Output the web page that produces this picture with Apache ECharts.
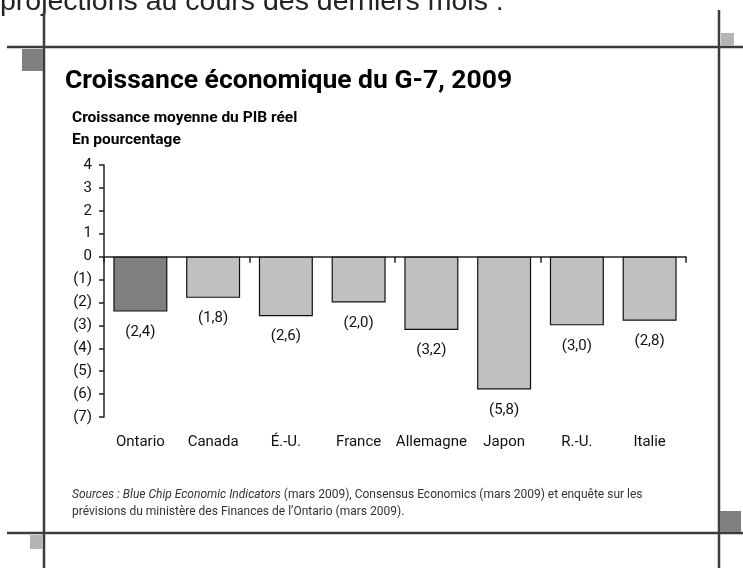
<!DOCTYPE html>
<html>
<head>
<meta charset="utf-8">
<script src="https://cdn.jsdelivr.net/npm/echarts@6/dist/echarts.min.js"></script>
<style>
html,body{margin:0;padding:0;background:#fff;}
#c{width:743px;height:568px;}
</style>
</head>
<body>
<div id="c"></div>
<script>
var categories = ['Ontario', 'Canada', 'É.-U.', 'France', 'Allemagne', 'Japon', 'R.-U.', 'Italie'];
var growth = [-2.4, -1.8, -2.6, -2.0, -3.2, -5.8, -3.0, -2.8];
var highlight = ['Ontario'];
var yMin = -7, yMax = 4, yStep = 1;
var titleText = 'Croissance économique du G-7, 2009';
var subtitle1 = 'Croissance moyenne du PIB réel';
var subtitle2 = 'En pourcentage';
var topText = 'projections au cours des derniers mois :';

var ROBOTO = "Roboto, 'Liberation Sans', sans-serif";
var SANS = "'Liberation Sans', Arial, sans-serif";

function paren(v, digits) {
  var s = Math.abs(v).toFixed(digits).replace('.', ',');
  return v < 0 ? '(' + s + ')' : s;
}

var chart = echarts.init(document.getElementById('c'), null, {renderer: 'canvas'});

var frameColor = '#3c3c3c';
var option = {
  animation: false,
  backgroundColor: '#fff',
  grid: {left: 104, right: 57, top: 165, bottom: 151, containLabel: false},
  xAxis: [{
    type: 'category',
    data: categories,
    position: 'bottom',
    axisLine: {show: false, onZero: false},
    axisTick: {show: false},
    axisLabel: {margin: 18, color: '#111', fontFamily: ROBOTO, fontSize: 15, interval: 0}
  }, {
    type: 'category',
    data: categories,
    position: 'top',
    axisLine: {show: true, onZero: true, lineStyle: {color: '#222', width: 1.5}},
    axisTick: {show: true, inside: true, length: 6, lineStyle: {color: '#222', width: 1.5}},
    axisLabel: {show: false}
  }],
  yAxis: {
    type: 'value',
    min: yMin, max: yMax, interval: yStep,
    axisLine: {show: true, lineStyle: {color: '#222', width: 1.5}},
    axisTick: {show: true, length: 5, lineStyle: {color: '#222', width: 1.5}},
    splitLine: {show: false},
    axisLabel: {
      margin: 12, color: '#111', fontFamily: ROBOTO, fontSize: 15,
      formatter: function (v) { return paren(v, 0); }
    }
  },
  series: [{
    type: 'bar',
    xAxisIndex: 0,
    barWidth: 54,
    data: growth.map(function (v, i) {
      return {
        value: v,
        itemStyle: {color: highlight.indexOf(categories[i]) >= 0 ? '#808080' : '#c0c0c0'}
      };
    }),
    itemStyle: {borderColor: '#111', borderWidth: 1.2},
    label: {
      show: true, position: 'bottom', distance: 13,
      color: '#111', fontFamily: ROBOTO, fontSize: 15,
      formatter: function (p) { return paren(p.value, 1); }
    }
  }],
  graphic: [
    {type: 'text', left: 0, top: -12, style: {text: topText, font: '28.5px ' + SANS, fill: '#222'}},
    {type: 'line', shape: {x1: 44, y1: 12, x2: 44, y2: 568}, style: {stroke: frameColor, lineWidth: 2.5}},
    {type: 'line', shape: {x1: 719, y1: 10, x2: 719, y2: 568}, style: {stroke: frameColor, lineWidth: 2.5}},
    {type: 'line', shape: {x1: 7, y1: 47, x2: 743, y2: 47}, style: {stroke: frameColor, lineWidth: 2.5}},
    {type: 'line', shape: {x1: 7, y1: 533, x2: 743, y2: 533}, style: {stroke: frameColor, lineWidth: 2.5}},
    {type: 'rect', shape: {x: 22, y: 49, width: 21, height: 22}, style: {fill: '#808080'}},
    {type: 'rect', shape: {x: 721, y: 33, width: 13, height: 13}, style: {fill: '#b4b4b4'}},
    {type: 'rect', shape: {x: 720, y: 511, width: 21, height: 21}, style: {fill: '#808080'}},
    {type: 'rect', shape: {x: 30, y: 535, width: 13, height: 14}, style: {fill: '#b4b4b4'}},
    {type: 'text', left: 65, top: 68, style: {text: titleText, font: 'bold 26.5px ' + ROBOTO, fill: '#000'}},
    {type: 'text', left: 72, top: 110, style: {text: subtitle1, font: 'bold 15.5px ' + ROBOTO, fill: '#000'}},
    {type: 'text', left: 72, top: 132, style: {text: subtitle2, font: 'bold 15.5px ' + ROBOTO, fill: '#000'}},
    {type: 'text', left: 72, top: 486, style: {
      text: '{i|Sources : Blue Chip Economic Indicators} (mars 2009), Consensus Economics (mars 2009) et enquête sur les\nprévisions du ministère des Finances de l\u2019Ontario (mars 2009).',
      font: '12px ' + ROBOTO, fill: '#333', lineHeight: 17,
      rich: {i: {fontStyle: 'italic', fontFamily: ROBOTO, fontSize: 12, fill: '#333'}}
    }}
  ]
};
chart.setOption(option);
</script>
</body>
</html>
